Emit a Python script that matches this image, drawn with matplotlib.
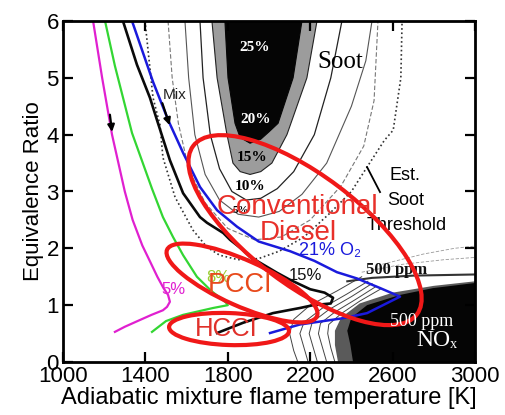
import matplotlib
matplotlib.use("Agg")
import matplotlib.pyplot as plt
from matplotlib.patches import Ellipse, Polygon
import matplotlib.transforms as mtransforms

# ---------------- data (T [K], equivalence ratio) ----------------
x_ticks = [1000, 1400, 1800, 2200, 2600, 3000]
y_ticks = [0, 1, 2, 3, 4, 5, 6]

# soot regions (filled)
soot_gray_T = [1723, 1748, 1796, 1825, 1860, 1908, 1960, 2014, 2087, 2184, 2233]
soot_gray_phi = [6, 5, 4, 3.5, 3.35, 3.3, 3.35, 3.5, 4, 5, 6]
soot_black_T = [1786, 1801, 1835, 1860, 1908, 1960, 2000, 2044, 2117, 2160]
soot_black_phi = [6, 5, 4.2, 3.95, 3.85, 3.92, 4.05, 4.2, 5, 6]

# soot contour lines
c10_T = [1665, 1680, 1715, 1760, 1820, 1890, 1960, 2040, 2120, 2220, 2300, 2354]
c10_phi = [6, 5, 4, 3.4, 3.0, 2.85, 2.88, 3.05, 3.35, 4, 5, 6]
c5_T = [1592, 1610, 1640, 1690, 1760, 1850, 1950, 2050, 2160, 2280, 2400, 2470, 2500]
c5_phi = [6, 5, 4, 3.3, 2.85, 2.6, 2.55, 2.65, 2.95, 3.5, 4.5, 5.3, 6]
c2_T = [1510, 1530, 1560, 1610, 1690, 1800, 1930, 2060, 2200, 2350, 2460, 2510, 2529]
c2_phi = [6, 5, 4.2, 3.4, 2.8, 2.35, 2.15, 2.2, 2.5, 3.1, 3.8, 4.6, 6]
est_T = [1398, 1437, 1471, 1485, 1544, 1631, 1699, 1760, 1850, 1950, 2050, 2170, 2296, 2400, 2476, 2560, 2603, 2640, 2646]
est_phi = [6, 4.65, 4.17, 3.6, 2.9, 2.32, 2.02, 1.88, 1.8, 1.82, 1.95, 2.2, 2.62, 3.0, 3.43, 3.9, 4.08, 5, 6]

# NOx region
nox_black_T = [2408, 2395, 2380, 2400, 2476, 2636, 2796, 3000, 3000]
nox_black_phi = [0, 0.3, 0.55, 0.78, 1.0, 1.18, 1.3, 1.39, 0]
nox_gray_T = [2335, 2320, 2320, 2350, 2440, 2600, 2800, 3000, 3000]
nox_gray_phi = [0, 0.3, 0.55, 0.78, 1.03, 1.22, 1.34, 1.42, 0]
nox_top_T = [2380, 2500, 2700, 3000]
nox_top_phi = [1.42, 1.48, 1.52, 1.54]
nox_lines_T = [
    [2450, 2330, 2200, 2120, 2100, 2120, 2140],
    [2480, 2380, 2260, 2170, 2150, 2170, 2190],
    [2500, 2400, 2290, 2210, 2195, 2215, 2235],
    [2520, 2420, 2320, 2250, 2240, 2260, 2280],
    [2540, 2440, 2350, 2290, 2285, 2300, 2320],
]
nox_lines_phi = [
    [1.5, 1.25, 1.0, 0.75, 0.5, 0.2, 0],
    [1.42, 1.2, 0.95, 0.7, 0.5, 0.25, 0],
    [1.38, 1.15, 0.92, 0.7, 0.5, 0.25, 0],
    [1.33, 1.1, 0.88, 0.68, 0.5, 0.25, 0],
    [1.28, 1.07, 0.85, 0.66, 0.5, 0.25, 0],
]
nox_upper_T = [[2450, 2650, 2850, 3000], [2550, 2750, 2900, 3000]]
nox_upper_phi = [[1.58, 1.72, 1.8, 1.84], [1.72, 1.9, 2.0, 2.04]]

# mixing trajectories
mag_T = [1146, 1190, 1238, 1300, 1338, 1385, 1425, 1458, 1488, 1510, 1519, 1505, 1485, 1430, 1374, 1300, 1252]
mag_phi = [6, 5, 4, 3, 2.5, 2.05, 1.75, 1.5, 1.3, 1.18, 1.06, 0.97, 0.91, 0.83, 0.74, 0.62, 0.53]
grn_T = [1204, 1252, 1335, 1432, 1485, 1534, 1583, 1650, 1720, 1790, 1800, 1728, 1583, 1500, 1432]
grn_phi = [6, 5.21, 4.03, 3.05, 2.55, 2.2, 1.88, 1.5, 1.25, 1.05, 1.0, 0.95, 0.83, 0.72, 0.53]
mix_T = [1291, 1359, 1422, 1456, 1519, 1583, 1665, 1699, 1778, 1811, 1874, 1908, 2039, 2100, 2200, 2270, 2311, 2300, 2214, 2150, 2019, 1874, 1748]
mix_phi = [6, 5.23, 4.65, 4.26, 3.55, 2.97, 2.55, 2.45, 2.27, 2.15, 1.97, 1.85, 1.57, 1.45, 1.28, 1.22, 1.13, 1.03, 1.0, 0.95, 0.86, 0.69, 0.51]
blue_T = [1335, 1437, 1510, 1583, 1665, 1748, 1845, 1950, 2102, 2220, 2330, 2427, 2540, 2636, 2476, 2359, 2150, 2005]
blue_phi = [6, 4.93, 4.26, 3.68, 3.08, 2.67, 2.38, 2.12, 1.95, 1.78, 1.58, 1.47, 1.3, 1.15, 0.86, 0.77, 0.66, 0.51]

# regime ellipses: centre (T, phi), size (inches), angle (deg)
reg_center_T = [2175, 1869, 1806]
reg_center_phi = [2.32, 1.39, 0.58]
reg_w = [2.80, 1.64, 1.20]
reg_h = [1.10, 0.46, 0.32]
reg_ang = [-37, -24, -2]

# ---------------- figure ----------------
plt.rcParams['font.family'] = ['Liberation Sans', 'DejaVu Sans']
fig = plt.figure(figsize=(5.05, 4.15), dpi=100)
ax = fig.add_axes([63 / 505, 1 - 362 / 415, 412 / 505, 341 / 415])
ax.set_xlim(1000, 3000)
ax.set_ylim(0, 6)

# soot fills
ax.add_patch(Polygon(list(zip(soot_gray_T, soot_gray_phi)), closed=False, fc='#9c9c9c', ec='#222222', lw=0.8, zorder=1))
ax.add_patch(Polygon(list(zip(soot_black_T, soot_black_phi)), closed=False, fc='#050505', ec='#050505', lw=0.8, zorder=1.1))
ax.plot(c10_T, c10_phi, color='#222222', lw=0.9, zorder=1)
ax.plot(c5_T, c5_phi, color='#555555', lw=0.8, zorder=1)
ax.plot(c2_T, c2_phi, color='#777777', lw=0.8, ls=(0, (4, 2)), zorder=1)
ax.plot(est_T, est_phi, color='#333333', lw=1.2, ls=(0, (1, 1.6)), zorder=1)

# NOx fills and lines
for lt, lp in zip(nox_lines_T, nox_lines_phi):
    ax.plot(lt, lp, color='#444444', lw=0.7, zorder=1)
for lt, lp in zip(nox_upper_T, nox_upper_phi):
    ax.plot(lt, lp, color='#999999', lw=0.6, ls=(0, (4, 2)), zorder=1)
ax.add_patch(Polygon(list(zip(nox_gray_T, nox_gray_phi)), closed=True, fc='#5a5a5a', ec='none', zorder=1.2))
ax.add_patch(Polygon(list(zip(nox_black_T, nox_black_phi)), closed=True, fc='#050505', ec='none', zorder=1.3))
ax.plot(nox_top_T, nox_top_phi, color='#333333', lw=1.5, zorder=1.3)

# trajectories
ax.plot(mag_T, mag_phi, color='#e020d0', lw=1.6, zorder=3)
ax.plot(grn_T, grn_phi, color='#33d633', lw=1.6, zorder=3)
ax.plot(mix_T, mix_phi, color='#0a0a0a', lw=1.9, zorder=3)
ax.plot(blue_T, blue_phi, color='#1a1adc', lw=1.8, zorder=3)
ax.annotate('', xy=(1240, 4.0), xytext=(1226, 4.4),
            arrowprops=dict(arrowstyle='-|>', color='black', lw=1.6, mutation_scale=10), zorder=4)
ax.annotate('', xy=(1522, 4.12), xytext=(1478, 4.6),
            arrowprops=dict(arrowstyle='-|>', color='black', lw=1.6, mutation_scale=10), zorder=4)

# regime ellipses
for cx, cy, w, h, a in zip(reg_center_T, reg_center_phi, reg_w, reg_h, reg_ang):
    tr = fig.dpi_scale_trans + mtransforms.ScaledTranslation(cx, cy, ax.transData)
    ax.add_patch(Ellipse((0, 0), w, h, angle=a, transform=tr, fill=False,
                         ec='#f01818', lw=3.0, zorder=5))

# texts
serif = ['Liberation Serif', 'DejaVu Serif']
ax.text(1932, 5.53, '25%', color='white', fontsize=11, fontweight='bold', family=serif, ha='center', va='center', zorder=2)
ax.text(1937, 4.26, '20%', color='white', fontsize=11, fontweight='bold', family=serif, ha='center', va='center', zorder=2)
ax.text(1917, 3.59, '15%', color='black', fontsize=11, fontweight='bold', family=serif, ha='center', va='center', zorder=2)
ax.text(1908, 3.08, '10%', color='black', fontsize=11, fontweight='bold', family=serif, ha='center', va='center', zorder=2)
ax.text(1865, 2.66, '5%', color='black', fontsize=8, fontweight='bold', family=serif, ha='center', va='center', zorder=2)
ax.text(2345, 5.28, 'Soot', color='black', fontsize=18, family=serif, ha='center', va='center', zorder=2)
ax.text(1485, 4.70, 'Mix', color='#222222', fontsize=11, ha='left', va='center', zorder=4)
ax.text(2587, 3.29, 'Est.', color='black', fontsize=13, ha='left', va='center', zorder=4)
ax.text(2573, 2.85, 'Soot', color='black', fontsize=13, ha='left', va='center', zorder=4)
ax.text(2476, 2.41, 'Threshold', color='black', fontsize=13, ha='left', va='center', zorder=4)
ax.plot([2476, 2539], [3.43, 2.99], color='black', lw=1.3, zorder=4)
ax.text(2296, 1.97, '21% O₂', color='#1a1adc', fontsize=13, ha='center', va='center', zorder=4)
ax.text(2175, 1.53, '15%', color='#111111', fontsize=12, ha='center', va='center', zorder=4)
ax.text(2621, 1.62, '500 ppm', color='#111111', fontsize=12, fontweight='bold', family=serif, ha='center', va='center', zorder=4)
ax.text(2743, 0.72, '500 ppm', color='white', fontsize=13, family=serif, ha='center', va='center', zorder=6)
ax.text(2816, 0.37, 'NOₓ', color='white', fontsize=17, family=serif + ['DejaVu Sans'], ha='center', va='center', zorder=6)
ax.text(1534, 1.27, '5%', color='#e020d0', fontsize=12, ha='center', va='center', zorder=4)
ax.text(1752, 1.48, '8%', color='#9acd32', fontsize=12, ha='center', va='center', zorder=4)

ax.text(2136, 2.73, 'Conventional', color='#e8302a', fontsize=20, ha='center', va='center', zorder=6)
ax.text(2141, 2.27, 'Diesel', color='#e8302a', fontsize=20, ha='center', va='center', zorder=6)
ax.text(1859, 1.35, 'PCCI', color='#e84a1c', fontsize=19.5, ha='center', va='center', zorder=6)
ax.text(1791, 0.58, 'HCCI', color='#e0302a', fontsize=18.5, ha='center', va='center', zorder=6)

# axes styling
ax.set_xticks(x_ticks)
ax.set_yticks(y_ticks)
ax.tick_params(direction='in', length=7, width=1.6, labelsize=16, top=True, right=True, pad=3)
for s in ax.spines.values():
    s.set_linewidth(2.0)
    s.set_zorder(7)
ax.set_xlabel('Adiabatic mixture flame temperature [K]', fontsize=17, labelpad=0)
ax.set_ylabel('Equivalence Ratio', fontsize=16, labelpad=2)

fig.savefig('out.png', dpi=100)
